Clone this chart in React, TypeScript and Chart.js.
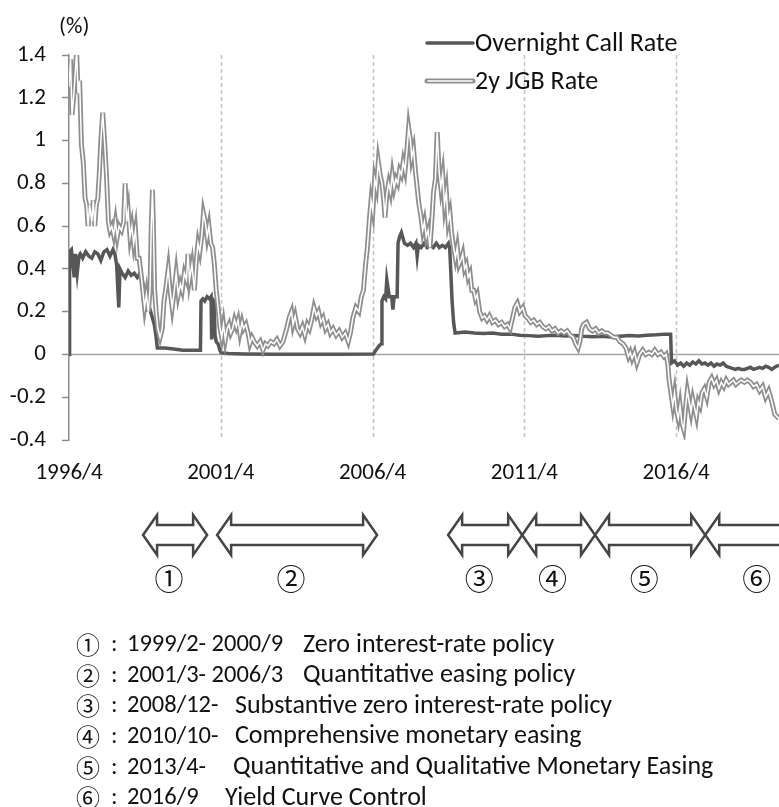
import React, { useEffect, useRef } from "react";
import { Chart, registerables } from "chart.js";
Chart.register(...registerables);

const xTickValues = [1996.25, 2001.25, 2006.25, 2011.25, 2016.25];
const xTickLabels = ["1996/4", "2001/4", "2006/4", "2011/4", "2016/4"];
const yTickValues = [-0.4, -0.2, 0, 0.2, 0.4, 0.6, 0.8, 1, 1.2, 1.4];
const yTickLabels = ["-0.4", "-0.2", "0", "0.2", "0.4", "0.6", "0.8", "1", "1.2", "1.4"];
const seriesNames = ["Overnight Call Rate", "2y JGB Rate"];

const callDates = [
  1996.25, 1996.27, 1996.33, 1996.38, 1996.42, 1996.46, 1996.52, 1996.58, 1996.62, 1996.7,
  1996.8, 1996.9, 1997.0, 1997.1, 1997.2, 1997.3, 1997.4, 1997.5, 1997.6, 1997.7,
  1997.76, 1997.82, 1997.86, 1997.89, 1997.93, 1998.0, 1998.1, 1998.2, 1998.3, 1998.4,
  1998.5, 1998.6, 1998.66, 1998.72, 1998.76, 1998.82, 1998.9, 1998.98, 1999.06, 1999.12,
  1999.16, 1999.4, 1999.7, 2000.0, 2000.3, 2000.58, 2000.6, 2000.66, 2000.72, 2000.8,
  2000.88, 2000.93, 2000.95, 2000.97, 2001.03, 2001.06, 2001.1, 2001.16, 2001.22, 2001.26,
  2001.5, 2002.0, 2003.0, 2004.0, 2005.0, 2006.28, 2006.36, 2006.46, 2006.54, 2006.56,
  2006.62, 2006.68, 2006.72, 2006.8, 2006.88, 2006.92, 2006.96, 2007.06, 2007.09, 2007.14,
  2007.2, 2007.3, 2007.4, 2007.5, 2007.6, 2007.68, 2007.72, 2007.76, 2007.85, 2007.95,
  2008.05, 2008.15, 2008.25, 2008.35, 2008.45, 2008.55, 2008.65, 2008.75, 2008.79, 2008.83,
  2008.87, 2008.92, 2008.97, 2009.3, 2009.6, 2009.9, 2010.2, 2010.5, 2010.8, 2011.1,
  2011.4, 2011.7, 2012.0, 2012.3, 2012.6, 2012.9, 2013.2, 2013.5, 2013.8, 2014.1,
  2014.4, 2014.7, 2015.0, 2015.3, 2015.6, 2015.9, 2016.07, 2016.1, 2016.2, 2016.3,
  2016.4, 2016.5, 2016.6, 2016.7, 2016.8, 2016.9, 2017.0, 2017.1, 2017.2, 2017.3,
  2017.4, 2017.5, 2017.6, 2017.7, 2017.8, 2017.9, 2018.0, 2018.1, 2018.2, 2018.3,
  2018.4, 2018.5, 2018.6, 2018.7, 2018.8, 2018.9, 2019.0, 2019.1, 2019.2, 2019.3,
  2019.4, 2019.5, 2019.64,
];
const callRates = [
  0, 0.48, 0.49, 0.42, 0.36, 0.47, 0.38, 0.46, 0.47, 0.45,
  0.48, 0.46, 0.45, 0.48, 0.47, 0.44, 0.48, 0.49, 0.46, 0.49,
  0.47, 0.42, 0.3, 0.22, 0.4, 0.38, 0.36, 0.39, 0.37, 0.38,
  0.36, 0.38, 0.35, 0.3, 0.25, 0.24, 0.22, 0.18, 0.14, 0.08,
  0.03, 0.03, 0.025, 0.02, 0.02, 0.02, 0.25, 0.26, 0.25, 0.27,
  0.26, 0.27, 0.07, 0.26, 0.25, 0.09, 0.06, 0.05, 0.02, 0.008,
  0.004, 0.002, 0.001, 0.001, 0.001, 0.002, 0.02, 0.04, 0.05, 0.25,
  0.27, 0.26, 0.35, 0.27, 0.27, 0.21, 0.27, 0.27, 0.52, 0.55,
  0.57, 0.52, 0.51, 0.52, 0.5, 0.52, 0.46, 0.51, 0.5, 0.52,
  0.5, 0.51, 0.5, 0.52, 0.5, 0.51, 0.5, 0.52, 0.5, 0.38,
  0.25, 0.15, 0.1, 0.105, 0.1, 0.098, 0.1, 0.095, 0.095, 0.09,
  0.088, 0.085, 0.088, 0.09, 0.086, 0.088, 0.085, 0.083, 0.085, 0.082,
  0.085, 0.088, 0.086, 0.09, 0.092, 0.095, 0.095, -0.04, -0.03, -0.05,
  -0.04, -0.055, -0.04, -0.05, -0.035, -0.045, -0.03, -0.045, -0.04, -0.05,
  -0.04, -0.055, -0.045, -0.05, -0.04, -0.055, -0.06, -0.065, -0.07, -0.065,
  -0.07, -0.07, -0.065, -0.06, -0.07, -0.065, -0.06, -0.065, -0.055, -0.06,
  -0.07, -0.06, -0.05,
];

const jgbDates = [
  1996.25, 1996.3, 1996.35, 1996.4, 1996.45, 1996.5, 1996.55, 1996.6, 1996.66, 1996.72,
  1996.78, 1996.83, 1996.88, 1996.93, 1997.0, 1997.05, 1997.1, 1997.15, 1997.2, 1997.25,
  1997.3, 1997.36, 1997.42, 1997.48, 1997.55, 1997.6, 1997.66, 1997.72, 1997.78, 1997.84,
  1997.9, 1997.98, 1998.05, 1998.1, 1998.15, 1998.2, 1998.26, 1998.32, 1998.38, 1998.44,
  1998.5, 1998.56, 1998.62, 1998.68, 1998.74, 1998.8, 1998.86, 1998.92, 1998.96, 1999.0,
  1999.03, 1999.07, 1999.12, 1999.18, 1999.25, 1999.32, 1999.38, 1999.45, 1999.52, 1999.58,
  1999.65, 1999.72, 1999.78, 1999.85, 1999.92, 1999.98, 2000.05, 2000.12, 2000.17, 2000.22,
  2000.3, 2000.38, 2000.45, 2000.5, 2000.56, 2000.62, 2000.68, 2000.74, 2000.8, 2000.86,
  2000.92, 2000.98, 2001.04, 2001.1, 2001.16, 2001.22, 2001.28, 2001.34, 2001.4, 2001.46,
  2001.52, 2001.58, 2001.64, 2001.7, 2001.76, 2001.82, 2001.88, 2001.95, 2002.0, 2002.08,
  2002.15, 2002.21, 2002.28, 2002.35, 2002.45, 2002.55, 2002.64, 2002.72, 2002.8, 2002.9,
  2003.0, 2003.1, 2003.2, 2003.3, 2003.42, 2003.5, 2003.58, 2003.63, 2003.7, 2003.78,
  2003.86, 2003.94, 2004.02, 2004.1, 2004.17, 2004.24, 2004.32, 2004.4, 2004.47, 2004.55,
  2004.62, 2004.7, 2004.78, 2004.86, 2004.95, 2005.05, 2005.15, 2005.25, 2005.35, 2005.45,
  2005.52, 2005.6, 2005.7, 2005.8, 2005.88, 2005.95, 2006.02, 2006.08, 2006.14, 2006.2,
  2006.26, 2006.32, 2006.38, 2006.44, 2006.5, 2006.56, 2006.62, 2006.66, 2006.72, 2006.78,
  2006.84, 2006.9, 2006.96, 2007.02, 2007.08, 2007.14, 2007.2, 2007.26, 2007.32, 2007.38,
  2007.44, 2007.5, 2007.54, 2007.6, 2007.66, 2007.72, 2007.78, 2007.84, 2007.9, 2007.96,
  2008.02, 2008.08, 2008.14, 2008.2, 2008.26, 2008.32, 2008.38, 2008.44, 2008.5, 2008.56,
  2008.62, 2008.68, 2008.74, 2008.8, 2008.86, 2008.92, 2008.98, 2009.04, 2009.1, 2009.16,
  2009.22, 2009.28, 2009.34, 2009.4, 2009.46, 2009.52, 2009.58, 2009.64, 2009.7, 2009.78,
  2009.86, 2009.94, 2010.02, 2010.1, 2010.2, 2010.3, 2010.4, 2010.5, 2010.6, 2010.7,
  2010.78, 2010.86, 2010.94, 2011.02, 2011.1, 2011.2, 2011.28, 2011.36, 2011.46, 2011.56,
  2011.66, 2011.76, 2011.86, 2011.96, 2012.06, 2012.16, 2012.26, 2012.36, 2012.46, 2012.56,
  2012.66, 2012.76, 2012.86, 2012.94, 2013.02, 2013.08, 2013.14, 2013.2, 2013.3, 2013.4,
  2013.5, 2013.6, 2013.7, 2013.8, 2013.9, 2014.0, 2014.1, 2014.2, 2014.3, 2014.4,
  2014.5, 2014.6, 2014.68, 2014.74, 2014.8, 2014.88, 2014.96, 2015.05, 2015.15, 2015.25,
  2015.35, 2015.45, 2015.55, 2015.65, 2015.75, 2015.85, 2015.92, 2015.98, 2016.02, 2016.06,
  2016.1, 2016.14, 2016.2, 2016.26, 2016.32, 2016.38, 2016.44, 2016.5, 2016.56, 2016.62,
  2016.68, 2016.74, 2016.8, 2016.86, 2016.92, 2016.98, 2017.04, 2017.1, 2017.18, 2017.26,
  2017.34, 2017.42, 2017.5, 2017.58, 2017.66, 2017.74, 2017.82, 2017.9, 2017.98, 2018.06,
  2018.14, 2018.22, 2018.3, 2018.4, 2018.5, 2018.6, 2018.7, 2018.8, 2018.9, 2019.0,
  2019.1, 2019.2, 2019.3, 2019.4, 2019.5, 2019.64,
];
const jgbRates = [
  1.25, 1.38, 1.12, 1.2, 1.3, 1.42, 1.22, 1.28, 0.98, 0.9,
  0.73, 0.7, 0.6, 0.7, 0.62, 0.72, 0.6, 0.7, 0.73, 0.85,
  1.0, 1.13, 1.0, 0.85, 0.62, 0.58, 0.6, 0.56, 0.62, 0.55,
  0.6, 0.58, 0.62, 0.8, 0.62, 0.67, 0.55, 0.6, 0.52, 0.58,
  0.45, 0.45, 0.38, 0.3, 0.22, 0.28, 0.2, 0.3, 0.6, 0.77,
  0.6, 0.3, 0.2, 0.12, 0.08, 0.12, 0.25, 0.32, 0.4, 0.3,
  0.22, 0.3, 0.38, 0.28, 0.33, 0.3, 0.38, 0.35, 0.47, 0.35,
  0.42, 0.3, 0.45, 0.52, 0.48, 0.55, 0.66, 0.62, 0.55, 0.6,
  0.52, 0.5, 0.42, 0.3, 0.22, 0.13, 0.08, 0.14, 0.07, 0.12,
  0.14, 0.1, 0.12, 0.16, 0.13, 0.16, 0.1, 0.15, 0.12, 0.14,
  0.1, 0.05, 0.08, 0.06, 0.04, 0.06, 0.02, 0.05, 0.04, 0.06,
  0.05, 0.07, 0.04, 0.06, 0.12, 0.17, 0.2, 0.14, 0.18, 0.12,
  0.1, 0.13, 0.09, 0.14, 0.12, 0.16, 0.22, 0.18, 0.2, 0.15,
  0.17, 0.12, 0.14, 0.1, 0.12, 0.09, 0.11, 0.08, 0.1, 0.06,
  0.1, 0.17, 0.22, 0.2, 0.27, 0.3, 0.42, 0.5, 0.62, 0.72,
  0.67, 0.82, 0.78, 0.9, 0.84, 0.8, 0.72, 0.64, 0.75, 0.8,
  0.76, 0.84, 0.78, 0.82, 0.8, 0.86, 0.84, 0.9, 0.86, 0.95,
  1.06, 1.0, 0.92, 0.96, 0.86, 0.78, 0.7, 0.65, 0.58, 0.62,
  0.55, 0.58, 0.5, 0.62, 0.76, 0.82, 1.04, 0.86, 0.78, 0.84,
  0.7, 0.76, 0.62, 0.66, 0.56, 0.5, 0.45, 0.5, 0.42, 0.44,
  0.47, 0.4, 0.42, 0.36, 0.38, 0.3, 0.3, 0.26, 0.28, 0.2,
  0.17, 0.18, 0.16, 0.18, 0.15, 0.16, 0.14, 0.15, 0.13, 0.14,
  0.12, 0.17, 0.22, 0.24, 0.2, 0.22, 0.18, 0.17, 0.15, 0.16,
  0.14, 0.15, 0.13, 0.12, 0.13, 0.11, 0.12, 0.1, 0.11, 0.1,
  0.11, 0.09, 0.08, 0.05, 0.03, 0.06, 0.12, 0.14, 0.15, 0.12,
  0.11, 0.12, 0.1, 0.11, 0.1, 0.1, 0.09, 0.08, 0.08, 0.06,
  0.05, 0.03, -0.01, 0.01, -0.02, 0.01, -0.04, 0.0, 0.02, 0.0,
  0.01, 0.0, 0.02, 0.0, 0.01, -0.01, 0.0, -0.05, -0.12, -0.16,
  -0.2, -0.24, -0.18, -0.26, -0.3, -0.24, -0.32, -0.35, -0.25, -0.17,
  -0.22, -0.27, -0.21, -0.25, -0.29, -0.22, -0.24, -0.18, -0.16, -0.2,
  -0.13, -0.11, -0.14, -0.12, -0.16, -0.13, -0.15, -0.12, -0.14, -0.13,
  -0.12, -0.14, -0.13, -0.12, -0.13, -0.12, -0.13, -0.15, -0.14, -0.17,
  -0.15, -0.2, -0.17, -0.22, -0.28, -0.3,
];

const arrowStarts = [1998.69, 2001.13, 2008.74, 2011.18, 2013.58, 2017.21];
const arrowEnds = [2000.8, 2006.4, 2011.18, 2013.58, 2017.21, 2021.0];
const periodMarks = ["\u2460", "\u2461", "\u2462", "\u2463", "\u2464", "\u2465"];
const periodDates = ["1999/2- 2000/9", "2001/3- 2006/3", "2008/12-", "2010/10-", "2013/4-", "2016/9"];
const periodNames = [
  "Zero interest-rate policy",
  "Quantitative easing policy",
  "Substantive zero interest-rate policy",
  "Comprehensive monetary easing",
  "Quantitative and Qualitative Monetary Easing",
  "Yield Curve Control",
];

const FONT = 'Carlito, Lato, "Liberation Sans", sans-serif';
const CJK = '"Noto Sans CJK JP", "DejaVu Sans", sans-serif';
const TEXT = "#111111";
const CALL_COLOR = "#575757";
const JGB_COLOR = "#8e8e8e";

const decorPlugin = {
  id: "decor",
  beforeDatasetsDraw(chart: any) {
    const { ctx, chartArea, scales } = chart;
    const xs = scales.x;
    const ys = scales.y;
    ctx.save();
    ctx.strokeStyle = "#c4c4c4";
    ctx.lineWidth = 1.5;
    ctx.setLineDash([4, 3]);
    xTickValues.forEach((v, i) => {
      if (i === 0) return;
      const x = Math.round(xs.getPixelForValue(v)) + 0.5;
      ctx.beginPath();
      ctx.moveTo(x, chartArea.top);
      ctx.lineTo(x, chartArea.bottom);
      ctx.stroke();
    });
    ctx.setLineDash([]);
    const y0 = ys.getPixelForValue(0);
    ctx.strokeStyle = "#a3a3a3";
    ctx.lineWidth = 1.5;
    ctx.beginPath();
    ctx.moveTo(chartArea.left, y0);
    ctx.lineTo(chartArea.right, y0);
    ctx.stroke();
    ctx.restore();
  },
  afterDraw(chart: any) {
    const { ctx, scales } = chart;
    const xs = scales.x;
    ctx.save();
    // unit label
    ctx.fillStyle = TEXT;
    ctx.font = `23px ${FONT}`;
    ctx.textBaseline = "middle";
    ctx.textAlign = "left";
    ctx.fillText("(%)", 59, 27);

    // legend
    const lx1 = 427, lx2 = 473;
    ctx.lineCap = "round";
    ctx.strokeStyle = CALL_COLOR;
    ctx.lineWidth = 3.5;
    ctx.beginPath(); ctx.moveTo(lx1, 43); ctx.lineTo(lx2, 43); ctx.stroke();
    ctx.strokeStyle = JGB_COLOR;
    ctx.lineWidth = 5;
    ctx.beginPath(); ctx.moveTo(lx1, 81); ctx.lineTo(lx2, 81); ctx.stroke();
    ctx.strokeStyle = "#ffffff";
    ctx.lineWidth = 1.6;
    ctx.beginPath(); ctx.moveTo(lx1 + 1, 81); ctx.lineTo(lx2 - 1, 81); ctx.stroke();
    ctx.fillStyle = TEXT;
    ctx.font = `26px ${FONT}`;
    ctx.fillText(seriesNames[0], 475, 44);
    ctx.fillText(seriesNames[1], 475, 82);

    // arrows
    ctx.lineCap = "butt";
    ctx.lineJoin = "miter";
    ctx.strokeStyle = "#454545";
    ctx.lineWidth = 2.5;
    const yc = 535, hh = 20, sh = 10, hl = 14;
    arrowStarts.forEach((s, i) => {
      const x1 = xs.getPixelForValue(s);
      const x2 = xs.getPixelForValue(arrowEnds[i]);
      ctx.beginPath();
      ctx.moveTo(x1, yc);
      ctx.lineTo(x1 + hl, yc - hh);
      ctx.lineTo(x1 + hl, yc - sh);
      ctx.lineTo(x2 - hl, yc - sh);
      ctx.lineTo(x2 - hl, yc - hh);
      ctx.lineTo(x2, yc);
      ctx.lineTo(x2 - hl, yc + hh);
      ctx.lineTo(x2 - hl, yc + sh);
      ctx.lineTo(x1 + hl, yc + sh);
      ctx.lineTo(x1 + hl, yc + hh);
      ctx.closePath();
      ctx.stroke();
      const xm = (x1 + Math.min(x2, 821)) / 2 - 6;
      ctx.fillStyle = TEXT;
      ctx.font = `29px ${CJK}`;
      ctx.textAlign = "center";
      ctx.fillText(periodMarks[i], xm, 579);
    });

    // period list
    periodMarks.forEach((m, i) => {
      const y = 645 + i * 30.6;
      ctx.fillStyle = TEXT;
      ctx.textAlign = "center";
      ctx.font = `24px ${CJK}`;
      ctx.fillText(m, 88, y);
      ctx.textAlign = "left";
      ctx.font = `24.5px ${FONT}`;
      ctx.fillText(":", 111, y);
      ctx.fillText(periodDates[i], 127, y);
      const descX = [303, 303, 235, 235, 233, 225][i];
      ctx.font = `26px ${FONT}`;
      ctx.fillText(periodNames[i], descX, y);
    });
    ctx.restore();
  },
};

export default function App() {
  const ref = useRef<HTMLCanvasElement | null>(null);
  useEffect(() => {
    if (!ref.current) return;
    const callData = callDates.map((d, i) => ({ x: d, y: callRates[i] }));
    const jgbData = jgbDates.map((d, i) => ({ x: d, y: jgbRates[i] }));
    const chart = new Chart(ref.current, {
      type: "line",
      data: {
        datasets: [
          {
            label: seriesNames[0],
            data: callData,
            borderColor: CALL_COLOR,
            borderWidth: 3.5,
            pointRadius: 0,
            tension: 0,
            order: 3,
          },
          {
            label: seriesNames[1],
            data: jgbData,
            borderColor: JGB_COLOR,
            borderWidth: 5,
            pointRadius: 0,
            tension: 0,
            order: 2,
          },
          {
            label: seriesNames[1] + " core",
            data: jgbData,
            borderColor: "#ffffff",
            borderWidth: 1.5,
            pointRadius: 0,
            tension: 0,
            order: 1,
          },
        ],
      },
      options: {
        animation: false,
        responsive: false,
        maintainAspectRatio: false,
        devicePixelRatio: 1,
        layout: { padding: { top: 55, left: 0, right: 0, bottom: 0 } },
        plugins: { legend: { display: false }, tooltip: { enabled: false } },
        scales: {
          x: {
            type: "linear",
            min: 1996.25,
            max: 2019.64,
            grid: { display: false },
            border: { display: false },
            afterBuildTicks: (scale: any) => {
              scale.ticks = xTickValues.map((v) => ({ value: v }));
            },
            afterFit: (scale: any) => {
              scale.height = 367;
            },
            ticks: {
              autoSkip: false,
              maxRotation: 0,
              padding: 11,
              color: TEXT,
              font: { family: FONT, size: 23 },
              callback: (_v: any, i: number) => xTickLabels[i],
            },
          },
          y: {
            min: -0.4,
            max: 1.4,
            grid: {
              display: true,
              drawOnChartArea: false,
              drawTicks: true,
              tickLength: 7,
              tickColor: "#8c8c8c",
              tickWidth: 1.5,
            },
            border: { display: true, color: "#8c8c8c", width: 1.5 },
            afterBuildTicks: (scale: any) => {
              scale.ticks = yTickValues.map((v) => ({ value: v }));
            },
            afterFit: (scale: any) => {
              scale.width = 69;
            },
            ticks: {
              autoSkip: false,
              padding: 16,
              color: TEXT,
              font: { family: FONT, size: 23 },
              callback: (_v: any, i: number) => yTickLabels[i],
            },
          },
        },
      },
      plugins: [decorPlugin],
    });
    return () => chart.destroy();
  }, []);
  return (
    <div style={{ position: "absolute", left: 0, top: 0, width: 779, height: 807, background: "#fff" }}>
      <canvas ref={ref} width={779} height={807} style={{ display: "block" }} />
    </div>
  );
}
